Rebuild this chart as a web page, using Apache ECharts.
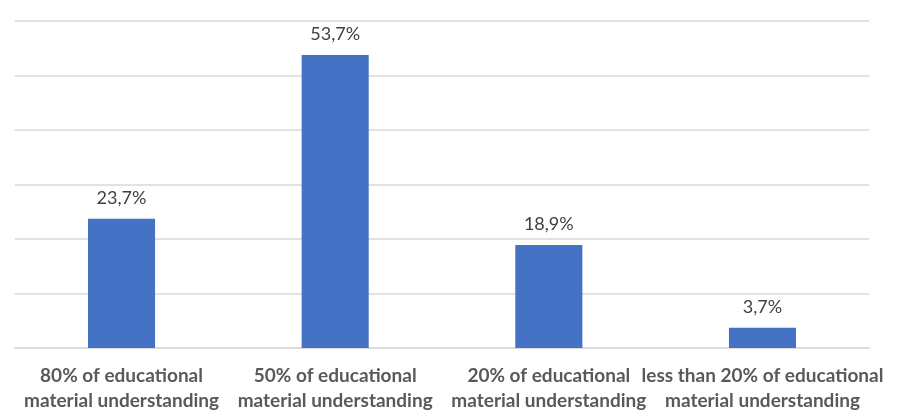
<!DOCTYPE html>
<html>
<head>
<meta charset="utf-8">
<script src="https://cdn.jsdelivr.net/npm/echarts@6/dist/echarts.min.js"></script>
<style>
html,body{margin:0;padding:0;background:#fff;}
#c{width:905px;height:420px;}
</style>
</head>
<body>
<div id="c"></div>
<script>
const categories = [
  "80% of educational\nmaterial understanding",
  "50% of educational\nmaterial understanding",
  "20% of educational\nmaterial understanding",
  "less than 20% of educational\nmaterial understanding"
];
const values = [23.7, 53.7, 18.9, 3.7];

const chart = echarts.init(document.getElementById('c'));
chart.setOption({
  animation: false,
  backgroundColor: '#ffffff',
  grid: { left: 14.7, right: 35.7, top: 20.7, bottom: 72 },
  xAxis: {
    type: 'category',
    data: categories,
    axisLine: { show: true, lineStyle: { color: '#d9d9d9', width: 1.5 } },
    axisTick: { show: false },
    axisLabel: {
      interval: 0,
      margin: 15,
      color: '#595959',
      fontFamily: 'Lato',
      fontWeight: 'bold',
      fontSize: 19,
      lineHeight: 25
    }
  },
  yAxis: {
    type: 'value',
    min: 0,
    max: 60,
    interval: 10,
    axisLabel: { show: false },
    axisLine: { show: false },
    axisTick: { show: false },
    splitLine: { show: true, lineStyle: { color: '#d9d9d9', width: 1.5 } }
  },
  series: [{
    type: 'bar',
    data: values,
    barWidth: '31.4%',
    itemStyle: { color: '#4472C4' },
    label: {
      show: true,
      position: 'top',
      distance: 12,
      color: '#404040',
      fontFamily: 'Lato',
      fontSize: 18,
      formatter: p => String(p.value).replace('.', ',') + '%'
    }
  }]
});
</script>
</body>
</html>
